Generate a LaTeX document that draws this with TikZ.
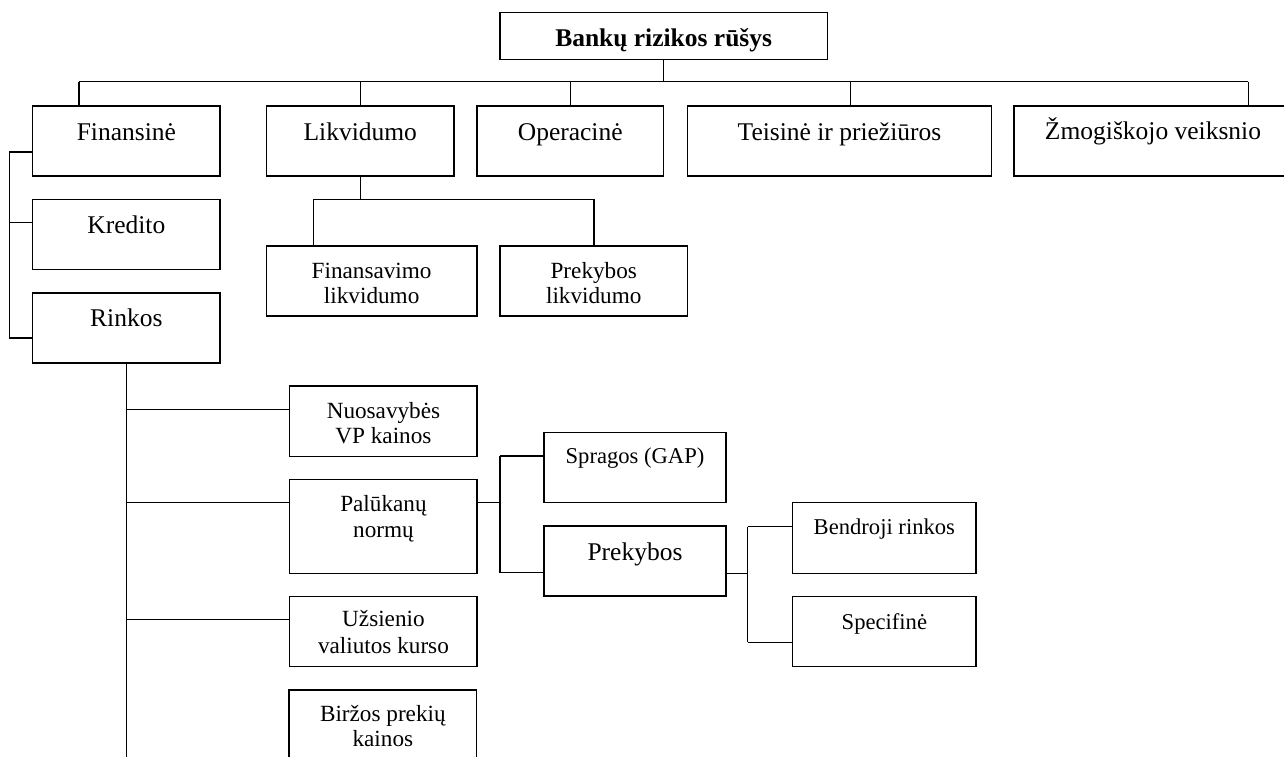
\documentclass[tikz,border=0pt]{standalone}
\usepackage{fontspec}
\setmainfont{Liberation Serif}
\usetikzlibrary{calc}
\newcommand\mkbox[5]{\node[box, minimum width={(#4-#2)*1pt}, minimum height={(#5-#3)*1pt}] (#1) at (#2,#3) {};}
\newcommand\mktext[5]{\node[anchor=base, inner sep=0pt, font=#4] (#1) at ($(#2.north)+(0,#3)$) {#5};}
\begin{document}
\begin{tikzpicture}[x=1pt,y=-1pt,
  box/.style={draw, line width=1.5pt, inner sep=0pt, outer sep=0pt, anchor=north west},
  conn/.style={draw, line width=1.5pt},
]
\def\fbig{\fontsize{25.5}{28}\selectfont}
\def\fsm{\fontsize{23.2}{26}\selectfont}
\def\fsn{\fontsize{22.6}{26}\selectfont}
\useasboundingbox (0,0) rectangle (1284,756);
% boxes
\mkbox{title}{500}{12.7}{827.3}{59.3}
\mkbox{fin}{32.7}{106}{220}{176}
\mkbox{likv}{266.5}{106}{454}{176}
\mkbox{oper}{476.8}{106}{663.7}{176}
\mkbox{teis}{687.3}{106}{991.7}{176}
\mkbox{zmog}{1014}{106}{1300}{176}
\mkbox{kred}{32.7}{199.3}{220}{269.3}
\mkbox{rink}{32.7}{293}{220}{363}
\mkbox{finv}{266.5}{246}{476.8}{316}
\mkbox{prekl}{500}{246}{687.5}{316}
\mkbox{nuos}{289.7}{386}{477.2}{456.7}
\mkbox{palu}{289.7}{479.3}{477.2}{573.3}
\mkbox{uzs}{289.7}{596.3}{477.2}{666.5}
\mkbox{birz}{289}{690}{476.7}{765}
\mkbox{sprag}{544}{432.7}{726}{502.7}
\mkbox{prek}{544}{526}{726}{596}
\mkbox{bend}{792.7}{502.7}{976}{573.3}
\mkbox{spec}{792.7}{596.7}{976}{666.7}
% texts
\mktext{titleT}{title}{34}{\fbig\bfseries}{Bankų rizikos rūšys}
\mktext{finT}{fin}{34}{\fbig}{Finansinė}
\mktext{likvT}{likv}{34}{\fbig}{Likvidumo}
\mktext{operT}{oper}{34}{\fbig}{Operacinė}
\mktext{teisT}{teis}{34}{\fbig}{Teisinė ir priežiūros}
\node[anchor=base, inner sep=0pt, font=\fbig] (zmogT) at (1153,139.5) {Žmogiškojo veiksnio};
\mktext{kredT}{kred}{34}{\fbig}{Kredito}
\mktext{rinkT}{rink}{33.7}{\fbig}{Rinkos}
\mktext{finvA}{finv}{32.3}{\fsm}{Finansavimo}
\mktext{finvB}{finv}{57.3}{\fsm}{likvidumo}
\mktext{preklA}{prekl}{32.3}{\fsm}{Prekybos}
\mktext{preklB}{prekl}{57.3}{\fsm}{likvidumo}
\mktext{nuosA}{nuos}{32.3}{\fsm}{Nuosavybės}
\mktext{nuosB}{nuos}{57.3}{\fsm}{VP kainos}
\mktext{paluA}{palu}{32.4}{\fsm}{Palūkanų}
\mktext{paluB}{palu}{58.4}{\fsm}{normų}
\mktext{uzsA}{uzs}{30.4}{\fsm}{Užsienio}
\mktext{uzsB}{uzs}{56.7}{\fsm}{valiutos kurso}
\mktext{birzA}{birz}{31.7}{\fsm}{Biržos prekių}
\mktext{birzB}{birz}{56.7}{\fsm}{kainos}
\mktext{spragT}{sprag}{30.6}{\fsn}{Spragos (GAP)}
\mktext{prekT}{prek}{34}{\fbig}{Prekybos}
\mktext{bendT}{bend}{31.6}{\fsn}{Bendroji rinkos}
\mktext{specT}{spec}{32.6}{\fsn}{Specifinė}
% top bus
\coordinate (busL) at (79,81.7);
\coordinate (busR) at (1248.3,81.7);
\coordinate (busT) at (850.7,81.7);
\draw[conn] (title.south) -- (title.south |- busL);
\draw[conn] (busL) -- (busR);
\draw[conn] (busL) -- (busL |- fin.north);
\draw[conn] (likv.north |- busL) -- (likv.north);
\draw[conn] (oper.north |- busL) -- (oper.north);
\draw[conn] (busT) -- (busT |- teis.north);
\draw[conn] (busR) -- (busR |- zmog.north);
% left bracket
\coordinate (brT) at (9.3,152);
\coordinate (brM) at (9.3,222.7);
\coordinate (brB) at (9.3,338);
\draw[conn] (fin.west |- brT) -- (brT) -- (brB) -- (rink.west |- brB);
\draw[conn] (brM) -- (kred.west |- brM);
% likvidumo
\coordinate (lkA) at (313.4,199.3);
\coordinate (lkB) at (593.8,199.3);
\draw[conn] (likv.south) -- (likv.south |- lkA);
\draw[conn] (lkA) -- (lkB);
\draw[conn] (lkA) -- (lkA |- finv.north);
\draw[conn] (lkB) -- (lkB |- prekl.north);
% rinkos
\coordinate (rkE) at (126.7,765);
\coordinate (rk1) at (126.7,409.3);
\coordinate (rk2) at (126.7,502.7);
\coordinate (rk3) at (126.7,619.3);
\draw[conn] (rink.south -| rkE) -- (rkE);
\draw[conn] (rk1) -- (rk1 -| nuos.west);
\draw[conn] (rk2) -- (rk2 -| palu.west);
\draw[conn] (rk3) -- (rk3 -| uzs.west);
% palukanu
\coordinate (pJ) at (500,502.7);
\coordinate (pA) at (500,456);
\coordinate (pB) at (500,572.5);
\draw[conn] (palu.east |- pJ) -- (pJ);
\draw[conn] (pA) -- (pB);
\draw[conn] (pA) -- (pA -| sprag.west);
\draw[conn] (pB) -- (pB -| prek.west);
% prekybos
\coordinate (qJ) at (747.7,573.3);
\coordinate (qA) at (747.7,526.7);
\coordinate (qB) at (747.7,642.3);
\draw[conn] (prek.east |- qJ) -- (qJ);
\draw[conn] (qA) -- (qB);
\draw[conn] (qA) -- (qA -| bend.west);
\draw[conn] (qB) -- (qB -| spec.west);
\end{tikzpicture}
\end{document}
